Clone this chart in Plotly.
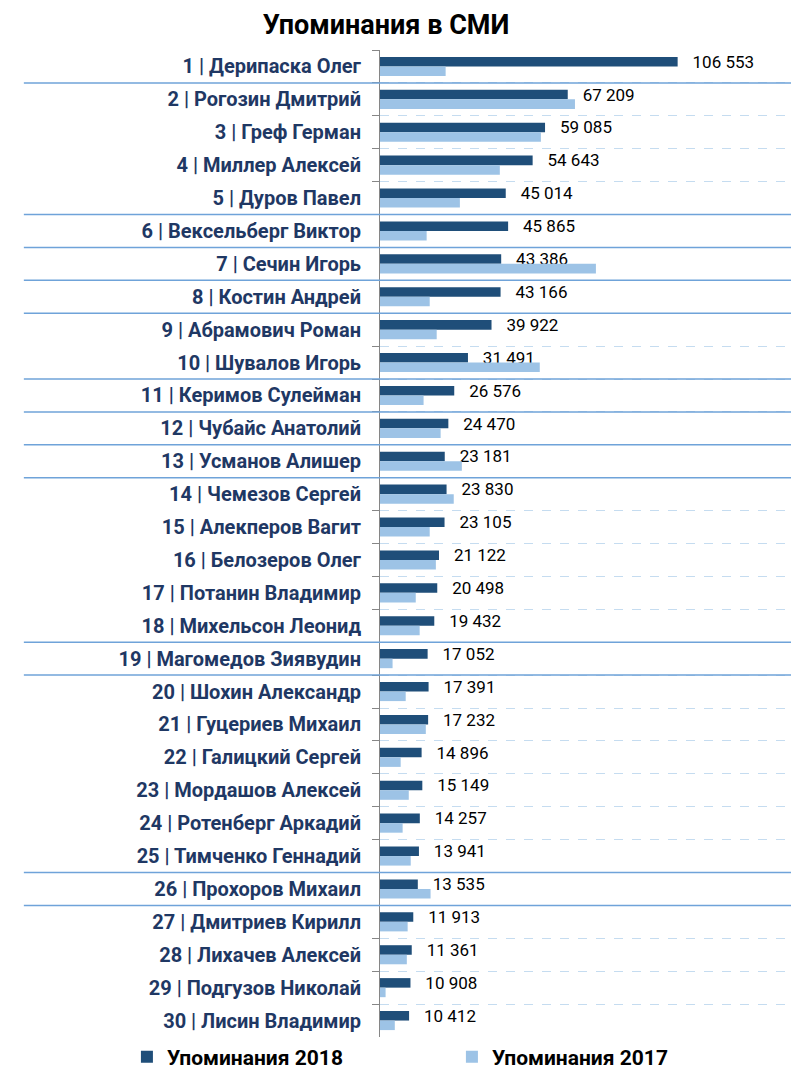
import plotly.graph_objects as go

names = [
    "1 | Дерипаска Олег", "2 | Рогозин Дмитрий", "3 | Греф Герман", "4 | Миллер Алексей",
    "5 | Дуров Павел", "6 | Вексельберг Виктор", "7 | Сечин Игорь", "8 | Костин Андрей",
    "9 | Абрамович Роман", "10 | Шувалов Игорь", "11 | Керимов Сулейман", "12 | Чубайс Анатолий",
    "13 | Усманов Алишер", "14 | Чемезов Сергей", "15 | Алекперов Вагит", "16 | Белозеров Олег",
    "17 | Потанин Владимир", "18 | Михельсон Леонид", "19 | Магомедов Зиявудин", "20 | Шохин Александр",
    "21 | Гуцериев Михаил", "22 | Галицкий Сергей", "23 | Мордашов Алексей", "24 | Ротенберг Аркадий",
    "25 | Тимченко Геннадий", "26 | Прохоров Михаил", "27 | Дмитриев Кирилл", "28 | Лихачев Алексей",
    "29 | Подгузов Николай", "30 | Лисин Владимир",
]
mentions_2018 = [
    106553, 67209, 59085, 54643, 45014, 45865, 43386, 43166, 39922, 31491,
    26576, 24470, 23181, 23830, 23105, 21122, 20498, 19432, 17052, 17391,
    17232, 14896, 15149, 14257, 13941, 13535, 11913, 11361, 10908, 10412,
]
mentions_2017 = [
    23500, 69800, 57600, 42900, 28600, 16700, 77300, 17800, 20300, 57200,
    15600, 21700, 29300, 26400, 17800, 20000, 12800, 14200, 4500, 9200,
    16400, 7400, 10300, 8100, 11000, 18100, 9900, 9600, 2000, 5300,
]
series_names = ["Упоминания 2018", "Упоминания 2017"]
# rows (1-based) below which a solid separator line is drawn in the reference
separator_after_rows = [1, 5, 6, 7, 8, 10, 11, 12, 13, 18, 19, 25, 26]

DARK = "#1F4E79"
LIGHT = "#9DC3E6"
LABEL = "#1F3864"
FONT = "Roboto, 'Liberation Sans', sans-serif"

fig = go.Figure()
fig.add_trace(go.Bar(
    y=names, x=mentions_2018, orientation="h", name=series_names[0],
    marker=dict(color=DARK, line=dict(width=0)),
    text=mentions_2018, texttemplate="\u00a0\u00a0\u2009%{x:,.0f}", textposition="outside",
    constraintext="none",
    textfont=dict(family=FONT, size=17, color="#000000"), cliponaxis=False,
))
fig.add_trace(go.Bar(
    y=names, x=mentions_2017, orientation="h", name=series_names[1],
    marker=dict(color=LIGHT, line=dict(width=0)),
    textposition="none",
))

shapes = []
for r in separator_after_rows:
    shapes.append(dict(
        type="line", xref="paper", yref="y", x0=-0.85, x1=1.0,
        y0=r - 0.5, y1=r - 0.5, line=dict(color="#6FA3D9", width=1.5), layer="above",
    ))

fig.update_layout(
    width=791, height=1062,
    margin=dict(l=372, r=0, t=42, b=33, autoexpand=False),
    paper_bgcolor="white", plot_bgcolor="white",
    separators=", ",
    barmode="group", bargap=0.42, bargroupgap=0,
    title=dict(text="<b>Упоминания в СМИ</b>", x=0.478, xref="container", xanchor="center",
               y=0.984, yref="container", yanchor="middle",
               font=dict(family=FONT, size=27, color="#000000")),
    xaxis=dict(range=[0, 150000], showgrid=False, showticklabels=False, zeroline=False,
               showline=False, ticks=""),
    yaxis=dict(autorange="reversed", type="category", tickson="boundaries",
               ticks="outside", ticklen=7, tickcolor="#868686",
               showline=True, linecolor="#868686", linewidth=1,
               showgrid=True, gridcolor="#C5DCF0", griddash="dash", gridwidth=1,
               tickfont=dict(family=FONT, size=20, color=LABEL, weight="bold"),
               ticklabelstandoff=14, automargin=False),
    legend=dict(orientation="h", x=-0.604, xanchor="left", y=-0.0203, yanchor="middle",
                bgcolor="rgba(0,0,0,0)",
                font=dict(family=FONT, size=21, color="#000000", weight="bold"),
                entrywidth=280, entrywidthmode="pixels", traceorder="normal"),
    shapes=shapes,
    showlegend=True,
)

fig.write_html("out.html")
